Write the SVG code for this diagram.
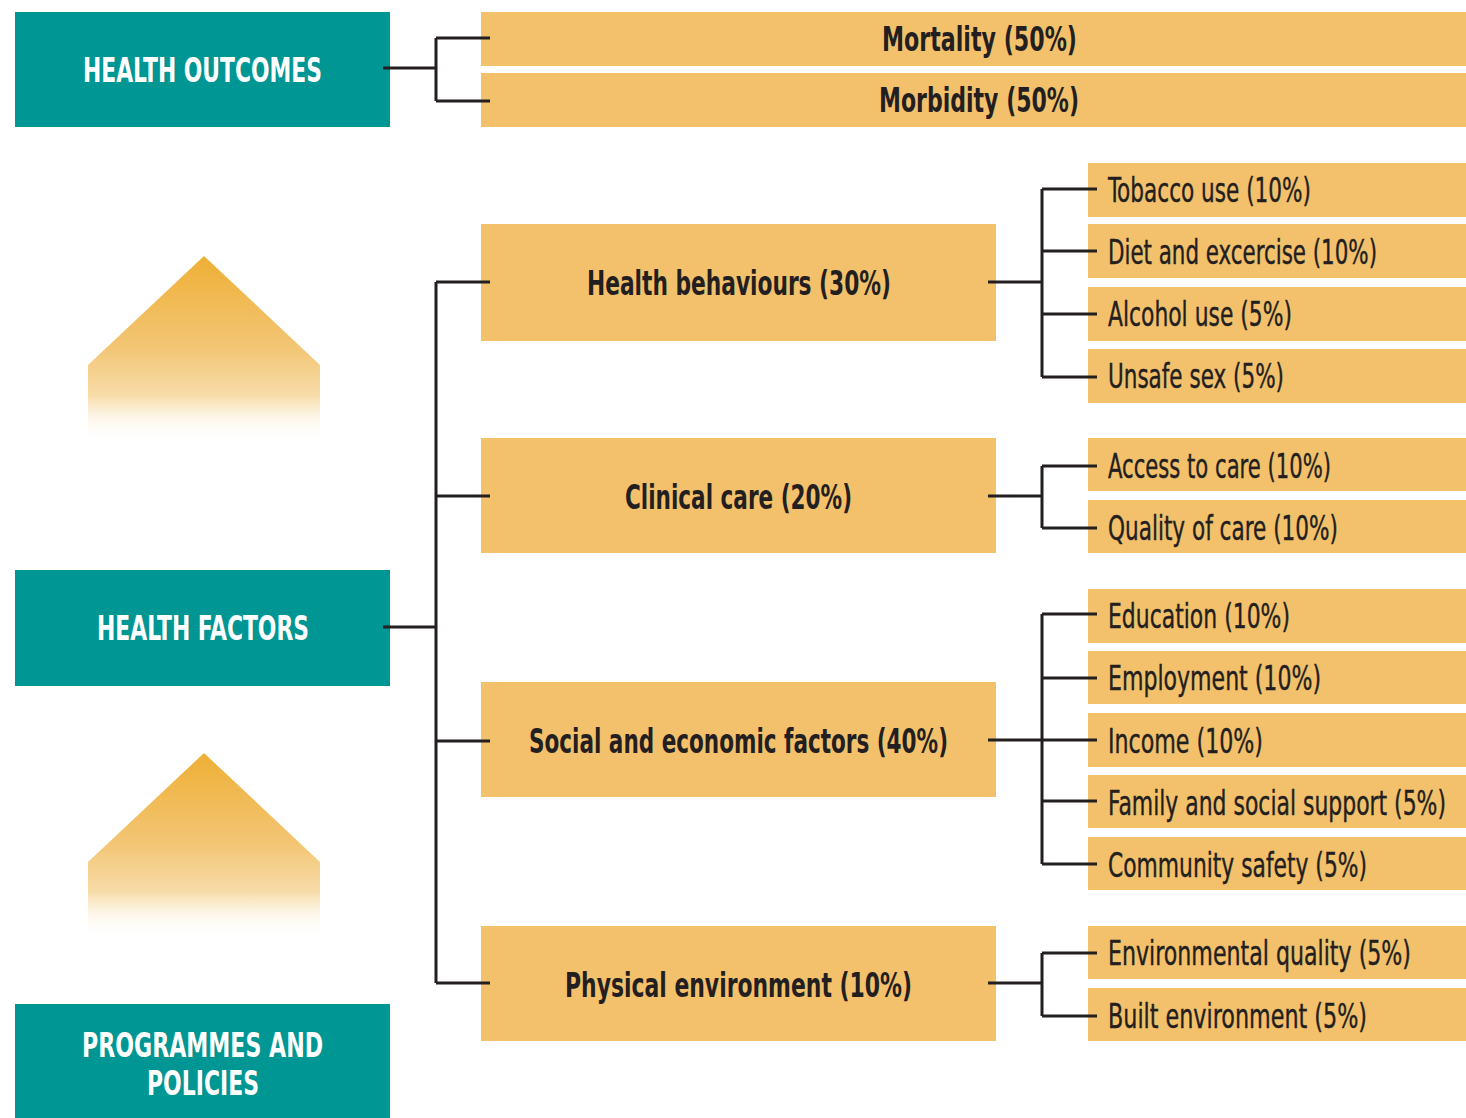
<svg xmlns="http://www.w3.org/2000/svg" width="1466" height="1118" viewBox="0 0 1466 1118">
<style>
.teal{fill:#009694}
.yel{fill:#F3C16B}
.tl{font-family:"Liberation Sans Narrow","DejaVu Sans Condensed","Liberation Sans",sans-serif;font-stretch:condensed;font-size:33px;font-weight:bold;fill:#FFFFFF;text-anchor:middle}
.mb{font-family:"Liberation Sans Narrow","DejaVu Sans Condensed","Liberation Sans",sans-serif;font-stretch:condensed;font-size:33px;font-weight:bold;fill:#231F20;text-anchor:middle}
.sb{font-family:"Liberation Sans Narrow","DejaVu Sans Condensed","Liberation Sans",sans-serif;font-stretch:condensed;font-size:33px;fill:#231F20;stroke:#231F20;stroke-width:0.4}
.con{fill:none;stroke:#231F20;stroke-width:3}
</style>
<defs>
<linearGradient id="arr" x1="0" y1="0" x2="0" y2="1">
<stop offset="0" stop-color="#EEAF35"/>
<stop offset="0.5" stop-color="#F3C676"/>
<stop offset="0.75" stop-color="#F7DCA8"/>
<stop offset="1" stop-color="#FFFFFF" stop-opacity="0"/>
</linearGradient>
</defs>
<rect width="1466" height="1118" fill="#FFFFFF"/>
<g id="arrows">
<polygon points="204,256 320,365 320,442 88,442 88,365" fill="url(#arr)"/>
<polygon points="204,753 320,862 320,938 88,938 88,862" fill="url(#arr)"/>
</g>
<g id="health-outcomes"><rect class="teal" x="15" y="12" width="375" height="115"/><text class="tl" x="202.5" y="82" textLength="239" lengthAdjust="spacingAndGlyphs">HEALTH OUTCOMES</text></g>
<g id="health-factors"><rect class="teal" x="15" y="570" width="375" height="116"/><text class="tl" x="203" y="640" textLength="212" lengthAdjust="spacingAndGlyphs">HEALTH FACTORS</text></g>
<g id="programmes"><rect class="teal" x="15" y="1004" width="375" height="114"/><text class="tl" x="202.5" y="1057" textLength="241" lengthAdjust="spacingAndGlyphs">PROGRAMMES AND</text><text class="tl" x="203" y="1095" textLength="112" lengthAdjust="spacingAndGlyphs">POLICIES</text></g>
<g id="mortality"><rect class="yel" x="481" y="12" width="985" height="54"/><text class="mb" x="979.5" y="51" textLength="195" lengthAdjust="spacingAndGlyphs">Mortality (50%)</text></g>
<g id="morbidity"><rect class="yel" x="481" y="73" width="985" height="54"/><text class="mb" x="979" y="112" textLength="200" lengthAdjust="spacingAndGlyphs">Morbidity (50%)</text></g>
<g id="health-behaviours"><rect class="yel" x="481" y="224" width="515" height="117"/><text class="mb" x="739" y="295" textLength="304" lengthAdjust="spacingAndGlyphs">Health behaviours (30%)</text></g>
<g id="clinical-care"><rect class="yel" x="481" y="438" width="515" height="115"/><text class="mb" x="738.5" y="509" textLength="227" lengthAdjust="spacingAndGlyphs">Clinical care (20%)</text></g>
<g id="social-economic"><rect class="yel" x="481" y="682" width="515" height="115"/><text class="mb" x="738.5" y="753" textLength="419" lengthAdjust="spacingAndGlyphs">Social and economic factors (40%)</text></g>
<g id="physical-environment"><rect class="yel" x="481" y="926" width="515" height="115"/><text class="mb" x="738.5" y="997" textLength="347" lengthAdjust="spacingAndGlyphs">Physical environment (10%)</text></g>
<g id="tobacco"><rect class="yel" x="1088" y="163" width="378" height="54"/><text class="sb" x="1108" y="202" textLength="203" lengthAdjust="spacingAndGlyphs">Tobacco use (10%)</text></g>
<g id="diet"><rect class="yel" x="1088" y="224" width="378" height="54"/><text class="sb" x="1108" y="264" textLength="269" lengthAdjust="spacingAndGlyphs">Diet and excercise (10%)</text></g>
<g id="alcohol"><rect class="yel" x="1088" y="287" width="378" height="54"/><text class="sb" x="1108" y="326" textLength="184" lengthAdjust="spacingAndGlyphs">Alcohol use (5%)</text></g>
<g id="unsafe-sex"><rect class="yel" x="1088" y="349" width="378" height="54"/><text class="sb" x="1108" y="388" textLength="176" lengthAdjust="spacingAndGlyphs">Unsafe sex (5%)</text></g>
<g id="access"><rect class="yel" x="1088" y="438" width="378" height="53"/><text class="sb" x="1108" y="478" textLength="223" lengthAdjust="spacingAndGlyphs">Access to care (10%)</text></g>
<g id="quality"><rect class="yel" x="1088" y="500" width="378" height="53"/><text class="sb" x="1108" y="540" textLength="230" lengthAdjust="spacingAndGlyphs">Quality of care (10%)</text></g>
<g id="education"><rect class="yel" x="1088" y="589" width="378" height="54"/><text class="sb" x="1108" y="628" textLength="182" lengthAdjust="spacingAndGlyphs">Education (10%)</text></g>
<g id="employment"><rect class="yel" x="1088" y="651" width="378" height="53"/><text class="sb" x="1108" y="690" textLength="213" lengthAdjust="spacingAndGlyphs">Employment (10%)</text></g>
<g id="income"><rect class="yel" x="1088" y="713" width="378" height="54"/><text class="sb" x="1108" y="753" textLength="155" lengthAdjust="spacingAndGlyphs">Income (10%)</text></g>
<g id="family"><rect class="yel" x="1088" y="775" width="378" height="53"/><text class="sb" x="1108" y="815" textLength="338" lengthAdjust="spacingAndGlyphs">Family and social support (5%)</text></g>
<g id="community"><rect class="yel" x="1088" y="837" width="378" height="53"/><text class="sb" x="1108" y="877" textLength="259" lengthAdjust="spacingAndGlyphs">Community safety (5%)</text></g>
<g id="environmental"><rect class="yel" x="1088" y="926" width="378" height="53"/><text class="sb" x="1108" y="965" textLength="303" lengthAdjust="spacingAndGlyphs">Environmental quality (5%)</text></g>
<g id="built"><rect class="yel" x="1088" y="988" width="378" height="53"/><text class="sb" x="1108" y="1028" textLength="259" lengthAdjust="spacingAndGlyphs">Built environment (5%)</text></g>
<g id="connectors">
<path class="con" d="M383,68 H436 M436,38 V101 M436,38 H490 M436,101 H490"/>
<path class="con" d="M383,627 H436 M436,282 V983 M436,282 H490 M436,496 H490 M436,741 H490 M436,983 H490"/>
<path class="con" d="M988,282 H1042 M1042,189 V377 M1042,189 H1097 M1042,251 H1097 M1042,314 H1097 M1042,377 H1097"/>
<path class="con" d="M988,496 H1042 M1042,466 V528 M1042,466 H1097 M1042,528 H1097"/>
<path class="con" d="M988,740 H1042 M1042,614 V864 M1042,614 H1097 M1042,678 H1097 M1042,740 H1097 M1042,801 H1097 M1042,864 H1097"/>
<path class="con" d="M988,983 H1042 M1042,953 V1016 M1042,953 H1097 M1042,1016 H1097"/>
</g>
</svg>
